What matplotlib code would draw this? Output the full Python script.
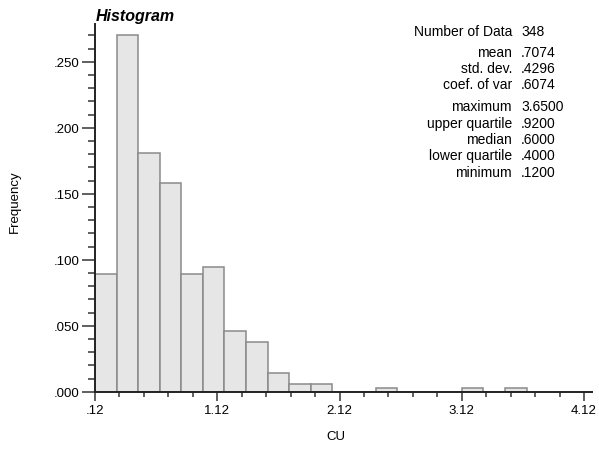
# Histogram of CU with summary statistics panel

import numpy as np
import matplotlib.pyplot as plt

plt.rcParams['font.family'] = ['Liberation Sans', 'DejaVu Sans']

# 20 equal-width classes between the minimum and the maximum
cu_min = 0.12
cu_max = 3.65
counts = [31, 94, 63, 55, 31, 33, 16, 13, 5, 2, 2, 0, 0, 1, 0, 0, 0, 1, 0, 1]
n_data = 348

stat_names = ['Number of Data', 'mean', 'std. dev.', 'coef. of var',
              'maximum', 'upper quartile', 'median', 'lower quartile', 'minimum']
stat_values = ['348', '.7074', '.4296', '.6074',
               '3.6500', '.9200', '.6000', '.4000', '.1200']

x_ticks = [0.12, 1.12, 2.12, 3.12, 4.12]
x_labels = ['.12', '1.12', '2.12', '3.12', '4.12']
y_ticks = [0.0, 0.05, 0.10, 0.15, 0.20, 0.25]
y_labels = ['.000', '.050', '.100', '.150', '.200', '.250']

edges = np.linspace(cu_min, cu_max, len(counts) + 1)
freq = np.array(counts) / n_data

fig = plt.figure(figsize=(5.99, 4.52), dpi=100)
ax = fig.add_axes([95 / 599, 1 - 392.7 / 452, (592 - 95) / 599, (392.7 - 25) / 452])

ax.bar(edges[:-1], freq, width=np.diff(edges), align='edge',
       color='#e6e6e6', edgecolor='#8a8a8a', linewidth=1.1, zorder=2)

ax.set_xlim(0.12, 4.185)
ax.set_ylim(0, 0.2786)

for s in ['top', 'right']:
    ax.spines[s].set_visible(False)
for s in ['left', 'bottom']:
    ax.spines[s].set_color('#222222')
    ax.spines[s].set_linewidth(1.4)
    ax.spines[s].set_zorder(3)

ax.set_xticks(x_ticks)
ax.set_xticklabels(x_labels)
ax.set_xticks(np.arange(0.12, 4.13, 0.2), minor=True)
ax.set_yticks(y_ticks)
ax.set_yticklabels(y_labels)
ax.set_yticks(np.arange(0, 0.2705, 0.01), minor=True)

ax.tick_params(axis='y', which='major', length=9.4, width=1.2, color='#444444',
               labelsize=9.5, pad=1.5)
ax.tick_params(axis='y', which='minor', length=5, width=1.2, color='#444444')
ax.tick_params(axis='x', which='major', length=6.5, width=1.2, color='#444444',
               labelsize=9.5, pad=2)
ax.tick_params(axis='x', which='minor', length=3.6, width=1.2, color='#444444')

fig.text(96 / 599, 1 - 16 / 452, 'Histogram', fontsize=11.5, fontweight='bold',
         fontstyle='italic', ha='left', va='center')
fig.text(15 / 599, 1 - 202 / 452, 'Frequency', fontsize=9.5, rotation=90,
         ha='center', va='center')
fig.text(336 / 599, 1 - 437 / 452, 'CU', fontsize=9.5, ha='center', va='center')

# summary statistics, grouped with small gaps
row_y = [31.7, 52.7, 69, 85, 107.3, 124.3, 140, 156, 172.7]
for name, val, y in zip(stat_names, stat_values, row_y):
    fig.text(512 / 599, 1 - y / 452, name, fontsize=10, ha='right', va='center')
    fig.text(521 / 599, 1 - y / 452, val, fontsize=10, ha='left', va='center')

plt.savefig('out.png', dpi=100)
